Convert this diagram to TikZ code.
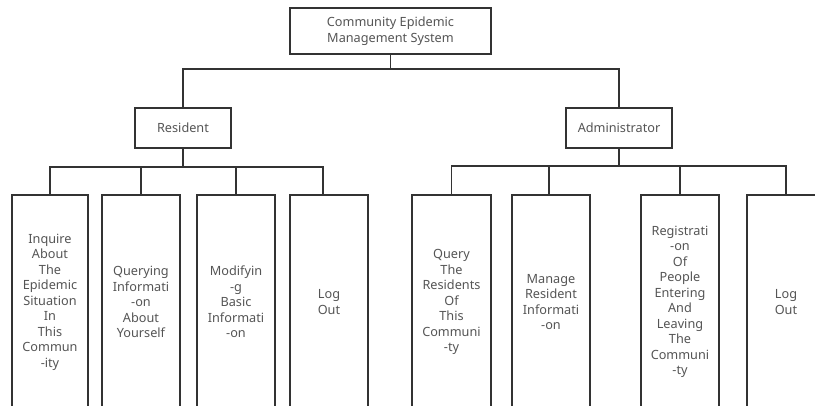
\documentclass[tikz,border=0pt]{standalone}
\usepackage{fontspec}
\setmainfont{Noto Sans}
\definecolor{linec}{HTML}{333333}
\definecolor{textc}{HTML}{555555}
\tikzset{
  box/.style={draw=linec, line width=1.7pt, fill=white, align=center, text=textc,
    font=\fontsize{12.7}{15.5}\selectfont, inner sep=0pt},
  topbox/.style={box, minimum width=201pt, minimum height=46pt},
  rolebox/.style={box, minimum height=40pt},
  leafbox/.style={box, minimum width=78pt, minimum height=214pt},
  conn/.style={draw=linec, line width=1.7pt}
}
\begin{document}
\begin{tikzpicture}[x=1pt,y=-1pt]
\useasboundingbox (0,0) rectangle (815,405);
\clip (0,0) rectangle (815,405);
\fill[white] (0,0) rectangle (815,405);
\node[topbox] (top) at (390.5,31) {Community Epidemic\\Management System};
\node[rolebox, minimum width=96pt] (res) at (183,128) {Resident};
\node[rolebox, minimum width=106pt] (adm) at (619,128) {Administrator};
\node[leafbox, minimum width=76pt] (r1) at (50,302) {Inquire\\About\\The\\Epidemic\\Situation\\In\\This\\Commun\\-ity};
\node[leafbox] (r2) at (141,302) {Querying\\Informati\\-on\\About\\Yourself};
\node[leafbox] (r3) at (236,302) {Modifyin\\-g\\Basic\\Informati\\-on};
\node[leafbox] (r4) at (329,302) {Log\\Out};
\node[leafbox, minimum width=79pt] (a1) at (451.5,302) {Query\\The\\Residents\\Of\\This\\Communi\\-ty};
\node[leafbox] (a2) at (551,302) {Manage\\Resident\\Informati\\-on};
\node[leafbox] (a3) at (680,302) {Registrati\\-on\\Of\\People\\Entering\\And\\Leaving\\The\\Communi\\-ty};
\node[leafbox] (a4) at (786,302) {Log\\Out};
\draw[conn] (top.south) -- ++(0,14) coordinate (tj) -| (res.north);
\draw[conn] (tj) -| (adm.north);
\draw[conn] (res.south) -- ++(0,18) coordinate (rj) -| (r1.north);
\draw[conn] (rj) -| (r2.north);
\draw[conn] (rj) -| (r3.north);
\draw[conn] (rj) -| ([xshift=-6pt]r4.north);
\draw[conn] (adm.south) -- ++(0,17) coordinate (aj) -| (a1.north);
\draw[conn] (aj) -| ([xshift=-2pt]a2.north);
\draw[conn] (aj) -| (a3.north);
\draw[conn] (aj) -| (a4.north);
\end{tikzpicture}
\end{document}
